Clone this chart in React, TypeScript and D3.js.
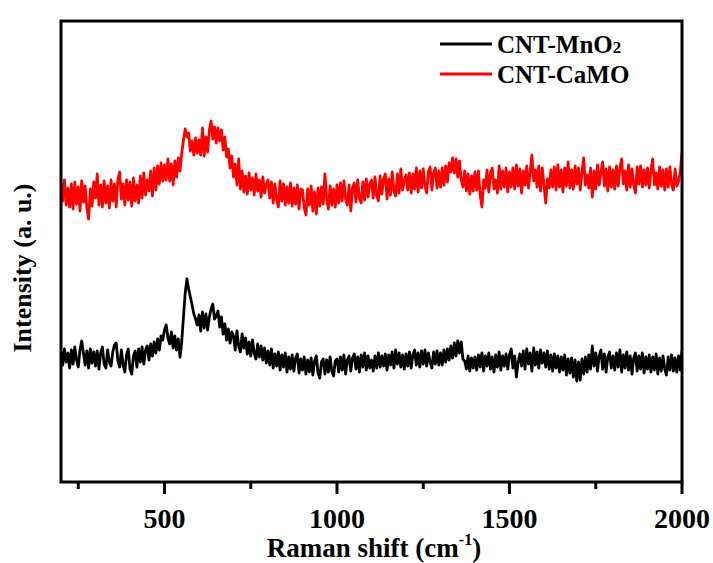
import React from 'react';
import * as d3 from 'd3';

// Raman shift sampling (cm-1)
const shiftStart = 200;
const shiftEnd = 2000;

// CNT-MnO2 intensity (a.u.), every 5 cm-1 from 200 to 2000
const mno2: number[] = [
  126,112,128,115,124,109,127,113,130,117,110,127,136,124,112,126,109,128,114,125,
  111,126,108,124,130,113,109,127,115,111,125,132,134,116,110,127,112,105,122,128,
  108,103,121,126,110,128,115,130,113,127,131,117,133,121,135,124,138,127,141,137,
  147,152,139,133,145,129,141,127,138,120,136,160,184,198,188,180,172,163,158,152,
  162,146,165,149,163,147,160,168,173,158,161,166,150,160,143,153,137,148,134,145,
  141,127,146,131,125,143,129,139,123,135,121,137,124,118,133,120,131,117,129,114,
  126,112,128,109,123,111,125,107,122,110,124,105,120,108,122,106,119,123,104,118,
  107,120,103,117,105,119,102,116,121,104,99,115,118,103,117,105,120,106,101,116,
  118,105,120,107,122,103,117,121,106,119,123,108,120,105,122,110,124,107,121,109,
  117,106,121,109,124,110,121,111,123,107,122,112,125,109,127,113,124,110,122,108,
  123,111,125,109,122,127,112,124,110,126,113,127,111,124,115,109,125,113,126,112,
  124,112,127,115,128,117,131,119,134,121,136,124,135,118,116,108,121,106,119,109,
  120,107,122,110,124,106,121,111,124,108,120,105,122,110,125,107,121,111,123,108,
  122,128,109,121,100,115,123,111,126,108,128,113,124,106,129,112,125,109,127,114,
  124,110,126,108,122,106,123,109,121,105,120,107,122,102,118,104,119,100,117,96,
  115,97,118,103,120,105,122,108,131,111,124,106,121,127,108,123,105,120,125,109,
  121,107,124,110,127,105,122,109,125,107,121,103,119,124,106,121,108,124,104,120,
  108,122,105,120,107,123,103,119,106,121,108,102,120,107,122,106,119,105,121,107,
  127,
];

// CNT-CaMO intensity (a.u.), every 5 cm-1 from 200 to 2000
const camo: number[] = [
  294,276,297,272,289,270,293,268,295,273,290,266,296,275,291,269,258,288,271,295,
  279,303,272,292,270,296,274,291,269,297,276,293,270,298,305,278,293,272,297,277,
  295,271,299,276,292,274,301,279,304,282,297,286,306,281,309,287,311,293,314,296,
  312,297,318,296,313,292,316,300,319,306,324,337,348,340,344,326,336,322,339,324,
  337,322,349,321,340,325,347,356,338,350,334,349,336,347,327,340,320,328,309,321,
  300,313,292,318,288,306,285,301,283,304,287,299,282,303,286,297,280,300,284,293,
  297,279,295,274,293,278,270,296,276,293,272,290,274,294,271,289,273,292,268,288,
  287,269,262,288,272,291,266,285,263,289,271,290,273,303,279,268,291,272,288,270,
  292,274,294,276,296,278,272,292,266,289,294,275,297,279,274,295,277,298,280,293,
  297,279,300,282,276,301,283,298,303,278,298,282,305,286,281,303,284,308,287,296,
  302,287,304,284,303,288,309,285,306,289,308,291,284,306,310,287,304,309,289,306,
  290,309,292,311,295,314,305,319,304,318,300,316,297,290,306,286,303,283,301,286,
  305,287,306,282,270,297,289,307,285,304,309,288,297,284,311,288,306,290,309,285,
  305,290,309,288,312,291,308,284,306,292,311,289,305,322,296,307,290,311,286,309,
  292,274,298,289,307,290,310,287,312,290,307,285,309,291,315,289,307,288,311,293,
  309,287,305,319,292,302,289,309,280,306,288,312,292,305,315,291,308,286,310,290,
  307,288,311,291,309,318,293,306,287,312,290,308,292,284,310,293,311,290,307,292,
  309,289,306,318,292,304,288,310,291,307,287,308,290,310,292,287,308,291,296,305,
  324,
];

const majorTicks = [500, 1000, 1500, 2000];
const minorTicks = [250, 750, 1250, 1750];
const legendNames = ['CNT-MnO', 'CNT-CaMO'];
const legendColors = ['#000000', '#ff0000'];

const W = 713;
const H = 563;
const FONT = "'Liberation Serif', 'Times New Roman', serif";

export default function App() {
  const left = 61, right = 682, top = 21, bottom = 482;
  const x = d3.scaleLinear().domain([shiftStart, shiftEnd]).range([left, right]);
  const y = d3.scaleLinear().domain([-5, 456]).range([bottom, top]);

  const mk = (arr: number[]) => {
    const step = (shiftEnd - shiftStart) / (arr.length - 1);
    return d3
      .line<number>()
      .x((_, i) => x(shiftStart + i * step))
      .y((d) => y(d))(arr) as string;
  };

  const legGap = 30;

  return (
    <svg
      width={W}
      height={H}
      style={{ position: 'absolute', left: 0, top: 0, background: '#fff' }}
    >
      <defs>
        <clipPath id="plotclip">
          <rect x={left} y={top} width={right - left} height={bottom - top} />
        </clipPath>
      </defs>
      <rect width={W} height={H} fill="#fff" />
      <g clipPath="url(#plotclip)" fill="none" strokeLinejoin="round">
        <path d={mk(mno2)} stroke={legendColors[0]} strokeWidth={2.8} />
        <path d={mk(camo)} stroke={legendColors[1]} strokeWidth={2.8} />
      </g>
      <rect
        x={left}
        y={top}
        width={right - left}
        height={bottom - top}
        fill="none"
        stroke="#000"
        strokeWidth={3}
      />
      {majorTicks.map((t) => (
        <g key={'M' + t}>
          <line x1={x(t)} x2={x(t)} y1={bottom} y2={bottom + 12} stroke="#000" strokeWidth={3} />
          <text
            x={x(t)}
            y={bottom + 46}
            textAnchor="middle"
            fontFamily={FONT}
            fontWeight="bold"
            fontSize={28}
          >
            {t}
          </text>
        </g>
      ))}
      {minorTicks.map((t) => (
        <line key={'m' + t} x1={x(t)} x2={x(t)} y1={bottom} y2={bottom + 7} stroke="#000" strokeWidth={3} />
      ))}
      <text
        x={374}
        y={557}
        textAnchor="middle"
        fontFamily={FONT}
        fontWeight="bold"
        fontSize={27}
      >
        Raman shift (cm
        <tspan fontSize={16} dy={-12}>-1</tspan>
        <tspan dy={12}>)</tspan>
      </text>
      <text
        transform={`translate(31, 268) rotate(-90)`}
        textAnchor="middle"
        fontFamily={FONT}
        fontWeight="bold"
        fontSize={26}
      >
        Intensity (a. u.)
      </text>
      {legendNames.map((n, i) => (
        <g key={n}>
          <line x1={440} x2={492} y1={44 + i * legGap} y2={44 + i * legGap} stroke={legendColors[i]} strokeWidth={3} />
          <text x={497} y={53 + i * legGap} fontFamily={FONT} fontWeight="bold" fontSize={25}>
            {n}
            {i === 0 ? <tspan fontSize={17}>2</tspan> : null}
          </text>
        </g>
      ))}
    </svg>
  );
}
